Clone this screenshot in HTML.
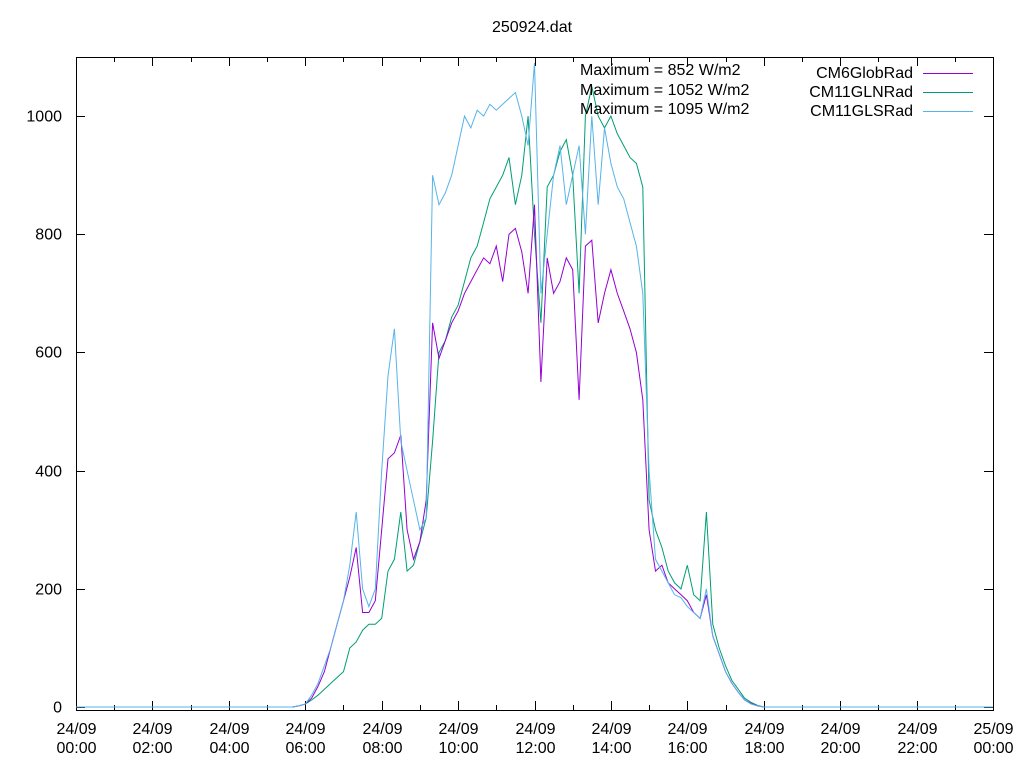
<!DOCTYPE html>
<html><head><meta charset="utf-8"><style>
body{margin:0;background:#fff}
svg{display:block;font-family:"Liberation Sans",Arial,sans-serif;font-size:16px}
</style></head><body>
<svg id="chart" width="1024" height="768">
<text x="532" y="32" text-anchor="middle">250924.dat</text>
<g id="axes"></g>
<g id="series"></g>
<g>
<text x="580" y="75">Maximum = 852 W/m2</text>
<text x="580" y="95">Maximum = 1052 W/m2</text>
<text x="580" y="114">Maximum = 1095 W/m2</text>
</g>
<g>
<text x="913" y="78" text-anchor="end">CM6GlobRad</text>
<line x1="923" y1="73.5" x2="973" y2="73.5" stroke="#9400d3"/>
<text x="913" y="97" text-anchor="end">CM11GLNRad</text>
<line x1="923" y1="92.5" x2="973" y2="92.5" stroke="#009e73"/>
<text x="913" y="116" text-anchor="end">CM11GLSRad</text>
<line x1="923" y1="111.5" x2="973" y2="111.5" stroke="#56b4e9"/>
</g>
</svg>
<script>
const startHour = 5.5;
const stepHours = 1/6;
const cm6 = [0,0,2,5,15,35,60,100,140,180,220,270,160,160,180,300,420,430,460,300,250,280,350,650,590,620,650,670,700,720,740,760,750,780,720,800,810,770,700,850,550,760,700,720,760,740,520,780,790,650,700,740,700,670,640,600,520,300,230,240,210,200,190,180,160,150,190,120,90,60,40,25,12,6,2,0,0];
const cm11gln = [0,0,2,5,12,20,30,40,50,60,100,110,130,140,140,150,230,250,330,230,240,280,320,450,600,620,660,680,720,760,780,820,860,880,900,930,850,900,1000,800,650,880,900,940,960,900,700,1000,1050,1000,980,1000,970,950,930,920,880,350,300,270,230,210,200,240,190,180,330,140,100,70,45,30,15,8,3,0,0];
const cm11gls = [0,0,2,5,20,40,70,100,140,180,240,330,200,170,200,400,560,640,450,400,350,300,320,900,850,870,900,950,1000,980,1010,1000,1020,1010,1020,1030,1040,1000,950,1090,700,800,900,950,850,900,950,800,1000,850,980,920,880,860,820,780,700,400,250,230,210,190,185,170,160,150,200,120,90,60,40,25,12,5,2,0,0];
const yTicks = [0,200,400,600,800,1000];
const xTickHours = [0,2,4,6,8,10,12,14,16,18,20,22,24];
const xTickLabels = [["24/09","00:00"],["24/09","02:00"],["24/09","04:00"],["24/09","06:00"],["24/09","08:00"],["24/09","10:00"],["24/09","12:00"],["24/09","14:00"],["24/09","16:00"],["24/09","18:00"],["24/09","20:00"],["24/09","22:00"],["25/09","00:00"]];

const L=76,R=993,T=57,B=710,YMIN=-5,YMAX=1100;
const sx=h=>L+(R-L)*h/24;
const sy=v=>B-(B-T)*(v-YMIN)/(YMAX-YMIN);
const NS="http://www.w3.org/2000/svg";
const axes=document.getElementById('axes');
function mk(tag,attrs,parent){const e=document.createElementNS(NS,tag);for(const k in attrs)e.setAttribute(k,attrs[k]);parent.appendChild(e);return e;}

const frame=mk('rect',{x:L+0.5,y:T+0.5,width:R-L,height:B-T,fill:'none',stroke:'#000'},axes);



yTicks.forEach(v=>{
  const y=Math.round(sy(v))+0.5;
  const t1=mk('line',{x1:L,y1:y,x2:L+9,y2:y,stroke:'#000'},axes);
  
  
  const t2=mk('line',{x1:R-9,y1:y,x2:R,y2:y,stroke:'#000'},axes);
  
  
  const tx=mk('text',{x:62,y:y+5,'text-anchor':'end'},axes);
  tx.textContent=v;
  
  
});
for(let h=1;h<24;h+=2){
  const x=Math.round(sx(h))+0.5;
  const m1=mk('line',{x1:x,y1:B,x2:x,y2:B-5,stroke:'#000'},axes);
  
  
  const m2=mk('line',{x1:x,y1:T,x2:x,y2:T+5,stroke:'#000'},axes);
  
  
}
xTickHours.forEach((h,i)=>{
  const x=Math.round(sx(h))+0.5;
  const t1=mk('line',{x1:x,y1:B,x2:x,y2:B-9,stroke:'#000'},axes);
  
  
  const t2=mk('line',{x1:x,y1:T,x2:x,y2:T+9,stroke:'#000'},axes);
  
  
  const tx=mk('text',{x:x,y:734,'text-anchor':'middle'},axes);
  
  
  const a=mk('tspan',{x:x,dy:0},tx);a.textContent=xTickLabels[i][0];
  const b=mk('tspan',{x:x,dy:19},tx);b.textContent=xTickLabels[i][1];
});

const sg=document.getElementById('series');
function draw(arr,color,name){
  const pts=[[sx(0),sy(0)]];
  arr.forEach((v,i)=>pts.push([sx(startHour+i*stepHours),sy(v)]));
  pts.push([sx(24),sy(0)]);
  const p=mk('polyline',{points:pts.map(p=>p[0].toFixed(1)+','+p[1].toFixed(1)).join(' '),fill:'none',stroke:color,'stroke-width':1},sg);
  
  
}
draw(cm11gln,'#009e73','series-cm11glnrad');
draw(cm6,'#9400d3','series-cm6globrad');
draw(cm11gls,'#56b4e9','series-cm11glsrad');
</script>
</body></html>
